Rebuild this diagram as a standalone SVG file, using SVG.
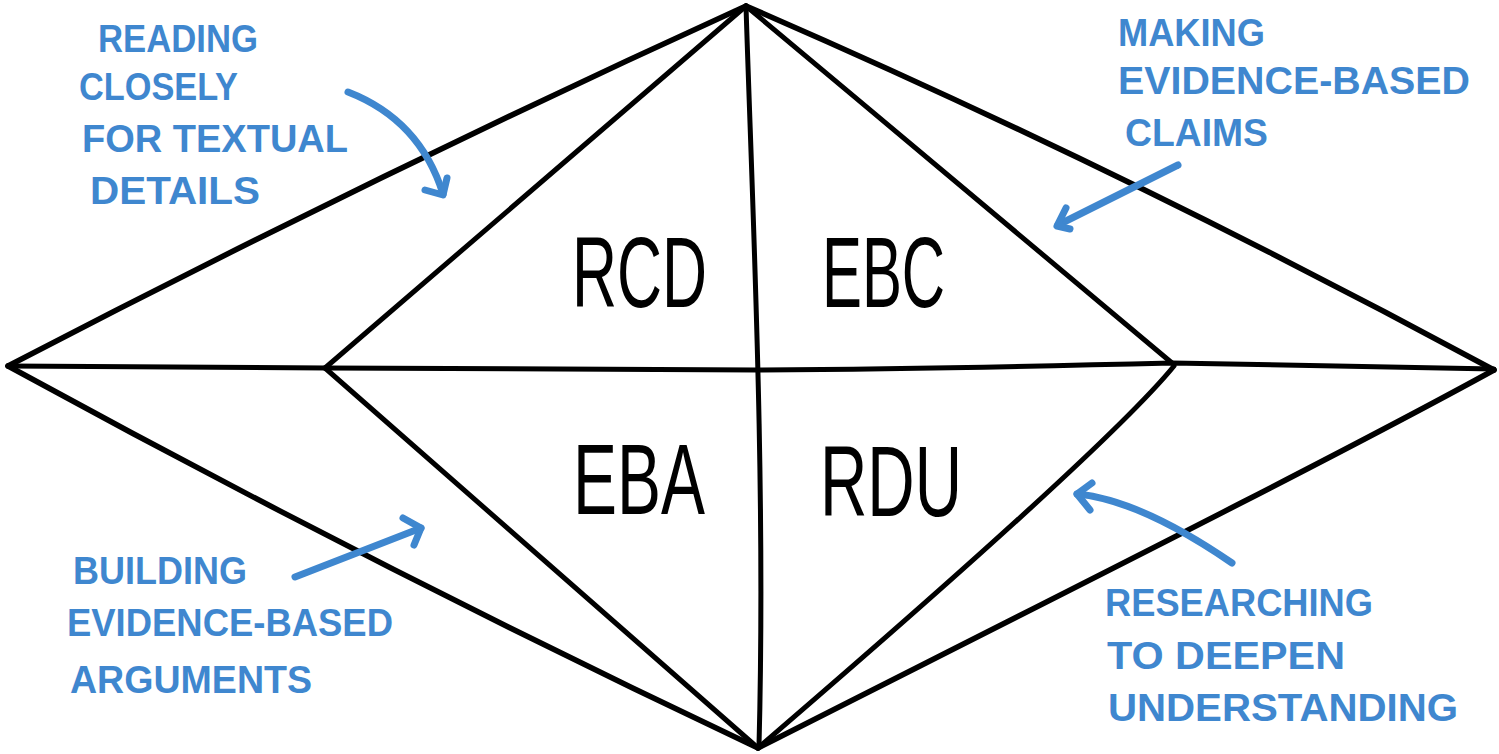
<svg xmlns="http://www.w3.org/2000/svg" width="1499" height="754" viewBox="0 0 1499 754">
<style>
.ln{fill:none;stroke:#000;stroke-linecap:round;stroke-linejoin:round}
.outer{stroke-width:5.5}
.inner{stroke-width:5}
.big{font-family:"Liberation Sans",Arial,sans-serif;font-size:100px;fill:#000}
.lbl{font-family:"Liberation Sans",Arial,sans-serif;font-size:38px;font-weight:bold;fill:#3f87cf}
.arr{fill:none;stroke:#3f87cf;stroke-width:7;stroke-linecap:round;stroke-linejoin:round}
</style>
<rect width="1499" height="754" fill="#fff"/>
<g id="diamond">
<path class="ln outer" d="M8,366 Q377,174 746,6"/>
<path class="ln outer" d="M746,6 Q1120,168 1494,370"/>
<path class="ln outer" d="M8,366 Q383,571 758,748"/>
<path class="ln outer" d="M758,748 C1050,600 1330,460 1494,370"/>
<path class="ln inner" d="M325,368 L746,6"/>
<path class="ln inner" d="M746,6 C900,135 1080,285 1172,363"/>
<path class="ln inner" d="M325,368 L758,748"/>
<path class="ln inner" d="M1174,366 C1130,420 1000,540 758,748"/>
<path class="ln inner" d="M8,366 L327,368 L757,370 C900,369 1050,366 1172,363 C1300,366 1400,368 1494,369"/>
<path class="ln inner" d="M746,6 C752,200 766,480 759,746"/>
</g>
<g id="node-rcd"><text class="big" x="572" y="307" textLength="135" lengthAdjust="spacingAndGlyphs">RCD</text></g>
<g id="node-ebc"><text class="big" x="822" y="307" textLength="123" lengthAdjust="spacingAndGlyphs">EBC</text></g>
<g id="node-eba"><text class="big" x="573" y="514" textLength="132" lengthAdjust="spacingAndGlyphs">EBA</text></g>
<g id="node-rdu"><text class="big" x="820" y="516" textLength="142" lengthAdjust="spacingAndGlyphs">RDU</text></g>
<g id="label-rcd">
<text class="lbl" x="98" y="52" textLength="160" lengthAdjust="spacingAndGlyphs">READING</text>
<text class="lbl" x="79" y="100" textLength="159" lengthAdjust="spacingAndGlyphs">CLOSELY</text>
<text class="lbl" x="82" y="152" textLength="266" lengthAdjust="spacingAndGlyphs">FOR TEXTUAL</text>
<text class="lbl" x="90" y="204" textLength="170" lengthAdjust="spacingAndGlyphs">DETAILS</text>
</g>
<g id="label-ebc">
<text class="lbl" x="1118" y="46" textLength="147" lengthAdjust="spacingAndGlyphs">MAKING</text>
<text class="lbl" x="1118" y="94" textLength="352" lengthAdjust="spacingAndGlyphs">EVIDENCE-BASED</text>
<text class="lbl" x="1125" y="146" textLength="143" lengthAdjust="spacingAndGlyphs">CLAIMS</text>
</g>
<g id="label-eba">
<text class="lbl" x="73" y="584" textLength="174" lengthAdjust="spacingAndGlyphs">BUILDING</text>
<text class="lbl" x="67" y="636" textLength="326" lengthAdjust="spacingAndGlyphs">EVIDENCE-BASED</text>
<text class="lbl" x="70" y="693" textLength="242" lengthAdjust="spacingAndGlyphs">ARGUMENTS</text>
</g>
<g id="label-rdu">
<text class="lbl" x="1105" y="616" textLength="268" lengthAdjust="spacingAndGlyphs">RESEARCHING</text>
<text class="lbl" x="1107" y="669" textLength="238" lengthAdjust="spacingAndGlyphs">TO DEEPEN</text>
<text class="lbl" x="1108" y="721" textLength="350" lengthAdjust="spacingAndGlyphs">UNDERSTANDING</text>
</g>
<g id="connectors">
<path class="arr" d="M348,92 Q420,120 443,194"/>
<path class="arr" d="M425,190 L443,195 L447,178"/>
<path class="arr" d="M1178,165 L1058,225"/>
<path class="arr" d="M1066,208 L1057,226 L1070,229"/>
<path class="arr" d="M295,577 L421,528"/>
<path class="arr" d="M403,518 L421,528 L414,545"/>
<path class="arr" d="M1232,563 Q1140,500 1077,494"/>
<path class="arr" d="M1092,483 L1077,494 L1090,510"/>
</g>
</svg>
